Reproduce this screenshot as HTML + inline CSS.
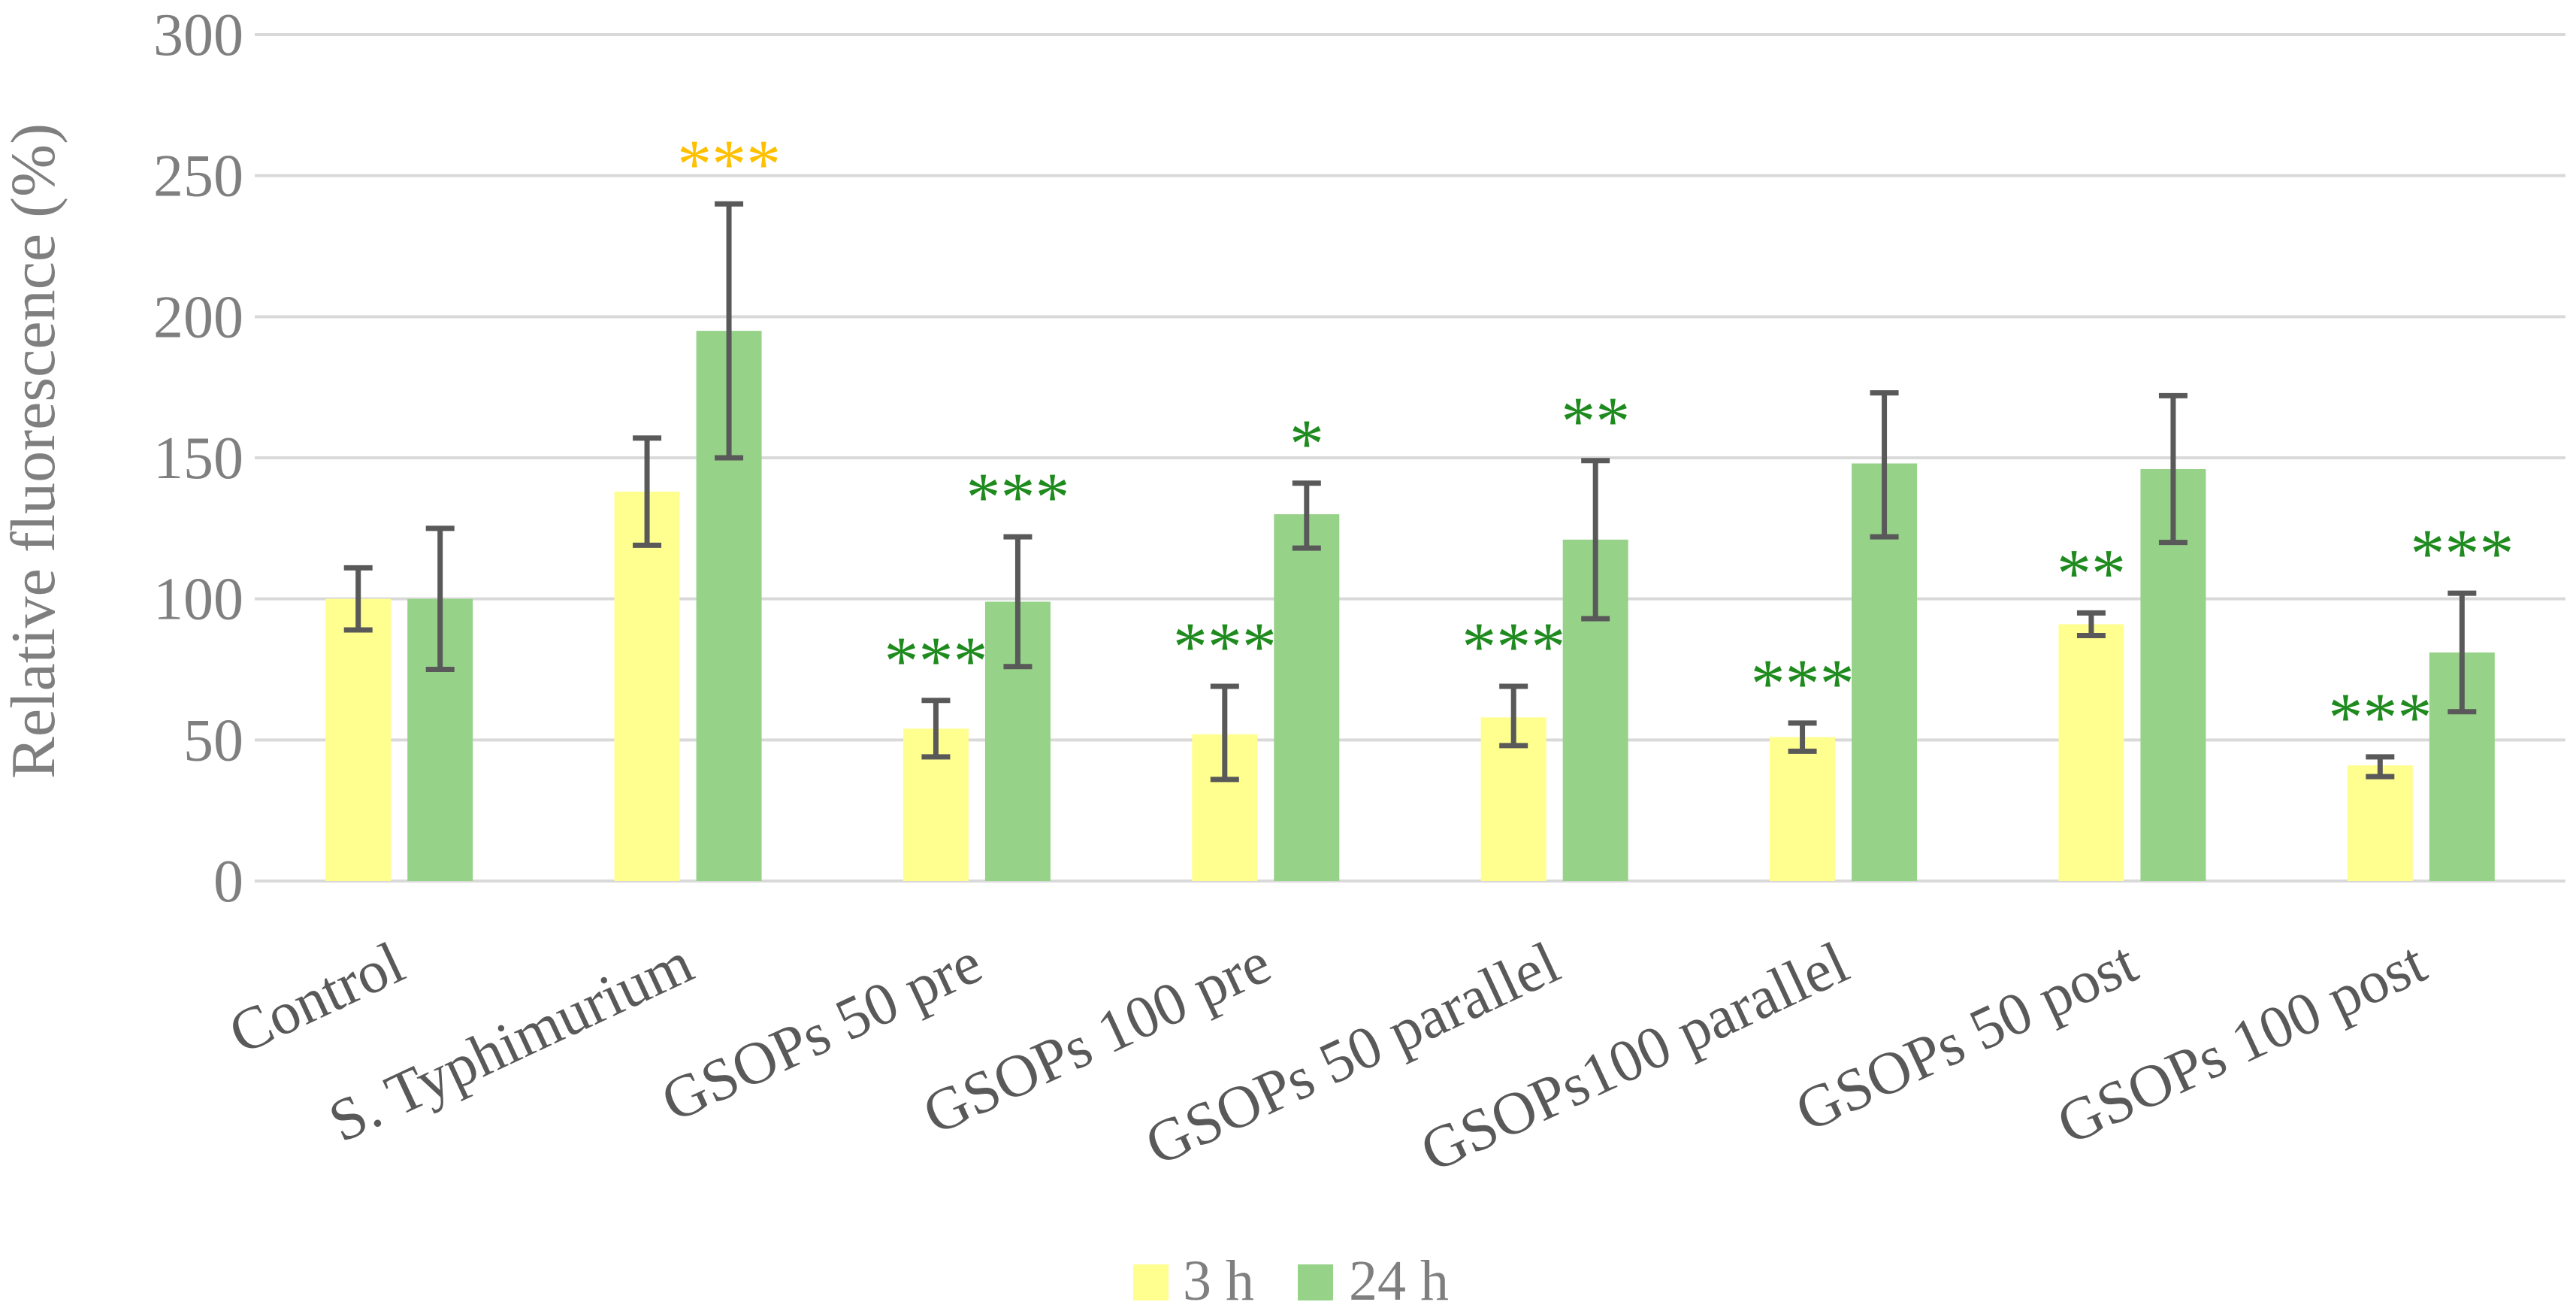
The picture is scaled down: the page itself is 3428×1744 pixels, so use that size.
<!DOCTYPE html>
<html><head><meta charset="utf-8"><style>
html,body{margin:0;padding:0;background:#fff;}
svg{display:block;}
svg text{font-family:"Liberation Serif","DejaVu Serif","Noto Serif CJK SC",serif !important;}
</style></head><body>
<svg id="chart" width="3428" height="1744" viewBox="0 0 3428 1744" xmlns="http://www.w3.org/2000/svg">
<g id="grid"></g>
<g id="yticks"></g>
<text transform="translate(72,600) rotate(-90)" text-anchor="middle" font-size="84" fill="#7f7f7f">Relative fluorescence (%)</text>
<g id="bars"></g>
<g id="xlabels"></g>
<g>
<rect x="1508" y="1682" width="47" height="48" fill="#ffff8f"/>
<text x="1574" y="1729" font-size="76" fill="#7f7f7f">3 h</text>
<rect x="1727" y="1682" width="47" height="48" fill="#97d289"/>
<text x="1795" y="1729" font-size="76" fill="#7f7f7f">24 h</text>
</g>
</svg>
<script>
const categories = ["Control","S. Typhimurium","GSOPs 50 pre","GSOPs 100 pre","GSOPs 50 parallel","GSOPs100 parallel","GSOPs 50 post","GSOPs 100 post"];
const vals3h = [100,138,54,52,58,51,91,41];
const errLo3h = [89,119,44,36,48,46,87,37];
const errHi3h = [111,157,64,69,69,56,95,44];
const vals24h = [100,195,99,130,121,148,146,81];
const errLo24h = [75,150,76,118,93,122,120,60];
const errHi24h = [125,240,122,141,149,173,172,102];
const stars3h = ["","","***","***","***","***","**","***"];
const stars24h = ["","***","***","*","**","","","***"];
const yTicks = [0,50,100,150,200,250,300];

const NS="http://www.w3.org/2000/svg";
const x0=339, x1=3414, y0=1172, yTop=46, yMax=300;
const catW=(x1-x0)/categories.length;
const yS=v=>y0-(v/yMax)*(y0-yTop);
const cx=i=>x0+catW*(i+0.5);
function mk(tag,attrs,parent){const e=document.createElementNS(NS,tag);for(const k in attrs)e.setAttribute(k,attrs[k]);parent.appendChild(e);return e;}
const grid=document.getElementById('grid'),yt=document.getElementById('yticks'),bars=document.getElementById('bars'),xl=document.getElementById('xlabels');
yTicks.forEach(t=>{
  const l=mk('line',{x1:x0,x2:x1,y1:yS(t),y2:yS(t),stroke:'#d9d9d9','stroke-width':4},grid);
  
  
  const tx=mk('text',{x:324,y:yS(t)+27,'text-anchor':'end','font-size':80,fill:'#7f7f7f'},yt);
  tx.textContent=t;
  
  
});
const bw=87, gap=22;
function bar(i,v,lo,hi,color,dx,star,starColor,nm){
  const x=cx(i)+dx;
  const r=mk('rect',{x:x,y:yS(v),width:bw,height:y0-yS(v),fill:color},bars);
  
  
  const mx=x+bw/2;
  const g=mk('g',{stroke:'#595959','stroke-width':7,fill:'none'},bars);
  
  
  mk('line',{x1:mx,x2:mx,y1:yS(hi),y2:yS(lo)},g);
  mk('line',{x1:mx-19,x2:mx+19,y1:yS(hi),y2:yS(hi)},g);
  mk('line',{x1:mx-19,x2:mx+19,y1:yS(lo),y2:yS(lo)},g);
  if(star){
    const s=mk('text',{x:mx,y:yS(hi)-22,'text-anchor':'middle','font-size':92,fill:starColor},bars);
    s.textContent=star;
    
    
  }
}
categories.forEach((c,i)=>{
  bar(i,vals3h[i],errLo3h[i],errHi3h[i],'#ffff8f',-(bw+gap/2),stars3h[i],'#1f8b1f','bar-3h');
  bar(i,vals24h[i],errLo24h[i],errHi24h[i],'#97d289',gap/2,stars24h[i],i===1?'#ffc000':'#1f8b1f','bar-24h');
  const t=mk('text',{transform:`translate(${cx(i)+12},1300) rotate(-25)`,'text-anchor':'end','font-size':80,fill:'#595959'},xl);
  t.textContent=c;
  
  
});
</script>
</body></html>
